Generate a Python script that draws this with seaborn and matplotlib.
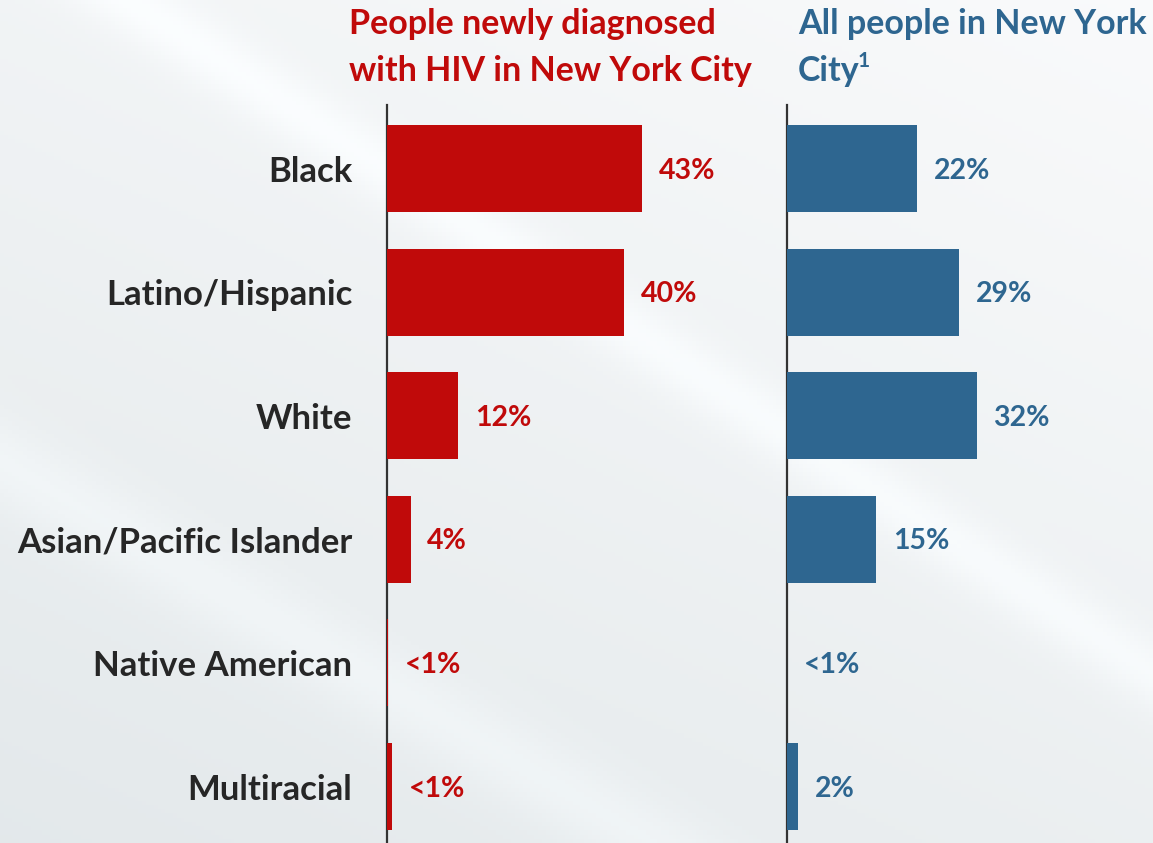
import numpy as np
import pandas as pd
import matplotlib
matplotlib.use("Agg")
import matplotlib.pyplot as plt
import seaborn as sns

categories = ["Black", "Latino/Hispanic", "White", "Asian/Pacific Islander",
              "Native American", "Multiracial"]
hiv_values = [43, 40, 12, 4, 0.2, 0.8]
hiv_labels = ["43%", "40%", "12%", "4%", "<1%", "<1%"]
nyc_values = [22, 29, 32, 15, 0.05, 1.9]
nyc_labels = ["22%", "29%", "32%", "15%", "<1%", "2%"]
title_left = ["People newly diagnosed", "with HIV in New York City"]
title_right = ["All people in New York", "City"]
title_right_note = "1"

RED = "#C00A0A"
BLUE = "#2E6690"
DARK = "#262626"

sns.set_theme(style="white")
plt.rcParams["font.family"] = ["Lato", "DejaVu Sans"]
plt.rcParams["font.weight"] = "bold"

W, H = 1153, 843
fig = plt.figure(figsize=(W / 100, H / 100), dpi=100)

# background gradient
bg = fig.add_axes([0, 0, 1, 1], zorder=-10)
yy, xx = np.mgrid[0:1:200j, 0:1:300j]
t = 0.5 * yy + 0.3 * (1 - xx)
streak = 0.035 * np.exp(-((yy - 0.9 * xx + 0.1) ** 2) / 0.002) + \
         0.03 * np.exp(-((yy - 0.8 * xx - 0.55) ** 2) / 0.003)
top = np.array([0.978, 0.982, 0.986])
bot = np.array([0.87, 0.895, 0.905])
img = top[None, None, :] * (1 - t[..., None]) + bot[None, None, :] * t[..., None]
img = np.clip(img + streak[..., None], 0, 1)
bg.imshow(img, aspect="auto", extent=[0, 1, 0, 1], origin="upper")
bg.set_axis_off()

px = 5.93  # pixels per percent
ax_top = 105
ylim = (5.457, -0.514)

def panel(left_px, right_px, values, labels, color):
    ax = fig.add_axes([left_px / W, 0, (right_px - left_px) / W, (H - ax_top) / H])
    ax.set_facecolor("none")
    df = pd.DataFrame({"cat": categories, "val": values})
    sns.barplot(data=df, x="val", y="cat", color=color, saturation=1,
                width=0.705, ax=ax, orient="h", linewidth=0)
    ax.set_xlim(0, (right_px - left_px) / px)
    ax.set_ylim(*ylim)
    for i, (v, lab) in enumerate(zip(values, labels)):
        ax.annotate(lab, xy=(v, i), xytext=(12, -1.5), textcoords="offset points",
                    ha="left", va="center", color=color, fontsize=20.5,
                    fontweight="bold")
    for s in ["top", "right", "bottom"]:
        ax.spines[s].set_visible(False)
    ax.spines["left"].set_color("#333333")
    ax.spines["left"].set_linewidth(1.6)
    ax.spines["left"].set_zorder(0.5)
    ax.set_xticks([])
    ax.set_xlabel("")
    ax.set_ylabel("")
    return ax

axL = panel(387, 760, hiv_values, hiv_labels, RED)
axL.tick_params(axis="y", length=0, pad=25)
axL.set_yticks(range(len(categories)))
axL.set_yticklabels(categories, fontsize=25, fontweight="bold", color=DARK)

axR = panel(787, 1153, nyc_values, nyc_labels, BLUE)
axR.set_yticks([])

line_y = [24, 71]
for ln, y in zip(title_left, line_y):
    fig.text(349 / W, 1 - y / H, ln, ha="left", va="center", color=RED,
             fontsize=24.5, fontweight="bold")
city = None
for ln, y in zip(title_right, line_y):
    city = fig.text(798 / W, 1 - y / H, ln, ha="left", va="center", color=BLUE,
                    fontsize=24.5, fontweight="bold")
fig.canvas.draw()
bb = city.get_window_extent(renderer=fig.canvas.get_renderer())
fig.text((bb.x1 - 2) / W, 1 - 61 / H, title_right_note, ha="left", va="center",
         color=BLUE, fontsize=15, fontweight="bold")

fig.savefig("out.png", dpi=100)
